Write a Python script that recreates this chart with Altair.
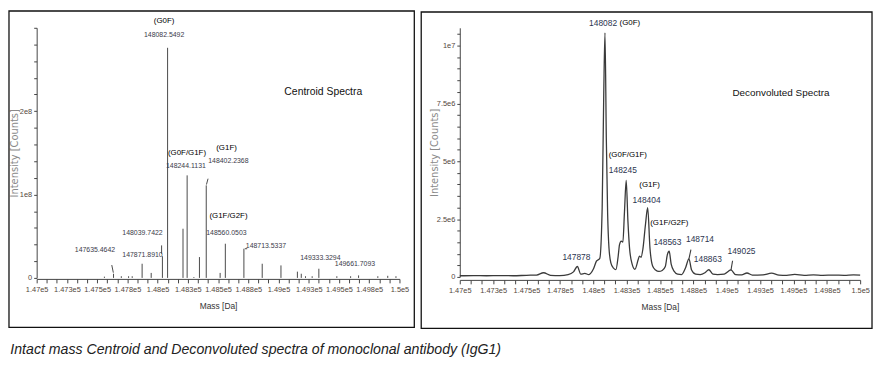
import altair as alt
import pandas as pd

# ---------------- data: centroid spectrum (left panel) ----------------
centroid_mass = [147560, 147635.4642, 147700, 147760, 147790, 147871.8910, 147947,
                 148039.7422, 148082.5492, 148210, 148244.1131, 148300, 148346,
                 148402.2368, 148517, 148560.0503, 148713.5337, 148865, 149020,
                 149156, 149188, 149223, 149278, 149333.3294, 149482, 149596,
                 149661.7093, 149821, 149903, 149971]
centroid_intensity = [0.015e8, 0.05e8, 0.02e8, 0.02e8, 0.02e8, 0.17e8, 0.06e8,
                      0.26e8, 2.76e8, 0.59e8, 1.23e8, 0.01e8, 0.25e8,
                      1.11e8, 0.06e8, 0.41e8, 0.35e8, 0.17e8, 0.15e8,
                      0.075e8, 0.05e8, 0.02e8, 0.02e8, 0.11e8, 0.02e8, 0.02e8,
                      0.03e8, 0.02e8, 0.025e8, 0.02e8]

left_num_text = ["148082.5492", "148244.1131", "148402.2368", "148560.0503",
                 "148713.5337", "148039.7422", "147871.8910", "147635.4642",
                 "149333.3294", "149661.7093"]
left_num_mass = [148054, 148234, 148585, 148569, 148896, 147875, 147875, 147482,
                 149346, 149632]
left_num_int = [2.917e8, 1.340e8, 1.399e8, 0.534e8, 0.379e8, 0.534e8, 0.273e8,
                0.332e8, 0.237e8, 0.166e8]

left_gly_text = ["(G0F)", "(G0F/G1F)", "(G1F)", "(G1F/G2F)"]
left_gly_mass = [148054, 148243, 148570, 148586]
left_gly_int = [3.083e8, 1.494e8, 1.553e8, 0.747e8]

left_lead_mass = [147621, 148033, 148417, 148721]
left_lead_mass2 = [147634, 148033, 148404, 148741]
left_lead_int = [0.154e8, 0.29e8, 1.19e8, 0.35e8]
left_lead_int2 = [0.063e8, 0.39e8, 1.12e8, 0.35e8]

# ---------------- data: deconvoluted spectrum (right panel) ----------------
decon_mass = [147000, 147100, 147200, 147300, 147400, 147500, 147575, 147628, 147680,
              147750, 147812, 147852, 147881, 147907, 147937, 147967, 148002, 148024,
              148049, 148067, 148079, 148088, 148098, 148108, 148118, 148132, 148152,
              148170, 148187, 148197, 148210, 148222, 148234, 148247, 148260, 148272,
              148292, 148312, 148337, 148346, 148358, 148372, 148392, 148408, 148425,
              148445, 148467, 148492, 148517, 148540, 148555, 148569, 148584, 148607,
              148632, 148662, 148692, 148717, 148737, 148767, 148802, 148837, 148866,
              148897, 148932, 148982, 149032, 149067, 149112, 149152, 149192, 149272,
              149336, 149392, 149450, 149510, 149580, 149650, 149720, 149800, 149880,
              149950, 150000]
decon_int_e6 = [0.05, 0.06, 0.05, 0.06, 0.05, 0.07, 0.08, 0.18, 0.07,
                0.06, 0.10, 0.22, 0.45, 0.12, 0.15, 0.10, 0.35, 0.68,
                0.80, 3.0, 8.0, 10.55, 6.0, 2.7, 1.25, 0.61, 0.38,
                0.32, 0.9, 1.4, 1.55, 1.5, 2.8, 4.17, 2.4, 1.25,
                0.54, 0.33, 0.75, 0.9, 0.85, 1.2, 2.3, 2.99, 1.25,
                0.47, 0.3, 0.24, 0.28, 0.45, 0.95, 1.11, 0.55, 0.24,
                0.12, 0.1, 0.4, 0.78, 0.3, 0.12, 0.1, 0.18, 0.31,
                0.12, 0.1, 0.12, 0.3, 0.1, 0.09, 0.17, 0.08, 0.09,
                0.16, 0.08, 0.07, 0.11, 0.07, 0.09, 0.07, 0.08, 0.07,
                0.09, 0.08]

right_num_text = ["148082", "148245", "148404", "148563", "148714", "147878",
                  "148863", "149025"]
right_num_mass = [148074, 148222, 148400, 148556, 148800, 147874, 148859, 149111]
right_num_int = [1.098e7, 4.62e6, 3.33e6, 1.50e6, 1.62e6, 0.855e6, 0.77e6, 1.11e6]

right_gly_text = ["(G0F)", "(G0F/G1F)", "(G1F)", "(G1F/G2F)"]
right_gly_mass = [148274, 148259, 148422, 148570]
right_gly_int = [1.098e7, 5.26e6, 3.97e6, 2.35e6]

right_lead_mass = [148717, 149032]
right_lead_mass2 = [148732, 149044]
right_lead_int = [0.78e6, 0.28e6]
right_lead_int2 = [1.18e6, 0.70e6]

# ---------------- ticks ----------------
x_tick_values = [147000 + 250 * i for i in range(13)]
x_tick_labels = ["1.47e5", "1.473e5", "1.475e5", "1.478e5", "1.48e5", "1.483e5",
                 "1.485e5", "1.488e5", "1.49e5", "1.493e5", "1.495e5", "1.498e5",
                 "1.5e5"]
left_y_tick_values = [0, 1e8, 2e8]
left_y_tick_labels = ["0", "1e8", "2e8"]
right_y_tick_values = [0, 2.5e6, 5e6, 7.5e6, 1e7]
right_y_tick_labels = ["0", "2.5e6", "5e6", "7.5e6", "1e7"]

caption = "Intact mass Centroid and Deconvoluted spectra of monoclonal antibody (IgG1)"

FONT = "Liberation Sans"
TICKLAB = "#54483c"


def minor_axis(start, step, count, major_values, major_labels):
    """Tick values every `step` with labels only at the major values."""
    vals = [start + i * step for i in range(count)]
    labs = [""] * count
    for v, l in zip(major_values, major_labels):
        labs[int(round((v - start) / step))] = l
    arr = "[" + ",".join("'" + s + "'" for s in labs) + "]"
    expr = f"{arr}[round((datum.value - {start}) / {step})]"
    return vals, expr


x_vals, x_expr = minor_axis(147000, 250 / 3, 37, x_tick_values, x_tick_labels)
ly_vals, ly_expr = minor_axis(0, 2e7, 16, left_y_tick_values, left_y_tick_labels)
ry_vals, ry_expr = minor_axis(0, 5e5, 22, right_y_tick_values, right_y_tick_labels)


def x_axis(offset):
    return alt.Axis(values=x_vals, labelExpr=x_expr,
                    title="Mass [Da]", grid=False, tickSize=4, tickColor="#444",
                    domainColor="#444", labelFont=FONT, labelFontSize=7.5,
                    labelColor=TICKLAB, labelOverlap=False, labelPadding=3,
                    labelFlush=False, titleFont=FONT, titleFontSize=8.5,
                    titleFontWeight="normal", titleColor="#333", titlePadding=8,
                    offset=offset)


def y_axis(vals, expr, title_x, h):
    return alt.Axis(values=vals, labelExpr=expr,
                    title="Intensity [Counts]", grid=False, tickSize=3, tickColor="#444",
                    domainColor="#444", labelFont=FONT, labelFontSize=7.5,
                    labelColor=TICKLAB, labelOverlap=False, labelPadding=2,
                    labelFlush=False, titleFont="DejaVu Sans", titleFontSize=10,
                    titleColor="#8a8a8a", titleFontWeight="normal", titleX=title_x,
                    titleY=h / 2, titleBaseline="middle", titleAngle=270)


def box(x1, x2, y1, y2):
    return alt.Chart(pd.DataFrame({"k": [0]})).mark_rect(
        fill="white", fillOpacity=0, stroke="#111", strokeWidth=1.3
    ).encode(x=alt.value(x1), x2=alt.value(x2), y=alt.value(y1), y2=alt.value(y2))


# ---------------- left panel ----------------
W1, H1 = 367, 253
xs1 = alt.Scale(domain=[147000, 150000], nice=False, zero=False)
ys1 = alt.Scale(domain=[0, 3e8], nice=False)
xa1 = x_axis(1)
ya1 = y_axis(ly_vals, ly_expr, -22, H1)
X1 = alt.X("mass:Q", scale=xs1, axis=xa1)
Y1 = alt.Y("intensity:Q", scale=ys1, axis=ya1)

df_c = pd.DataFrame({"mass": centroid_mass, "intensity": centroid_intensity})
df_c["base"] = 0.0
sticks = alt.Chart(df_c).mark_rule(color="#4a4a4a", strokeWidth=1).encode(
    x=X1, y=Y1, y2="base:Q")
df_ll = pd.DataFrame({"mass": left_lead_mass, "mass2": left_lead_mass2,
                      "intensity": left_lead_int, "intensity2": left_lead_int2})
lead1 = alt.Chart(df_ll).mark_rule(color="#4a4a4a", strokeWidth=1).encode(
    x=X1, x2="mass2:Q", y=Y1, y2="intensity2:Q")
df_ln = pd.DataFrame({"mass": left_num_mass, "intensity": left_num_int, "t": left_num_text})
num1 = alt.Chart(df_ln).mark_text(font=FONT, fontSize=7, color="#3b3b4a",
                                  baseline="middle").encode(x=X1, y=Y1, text="t:N")
df_lg = pd.DataFrame({"mass": left_gly_mass, "intensity": left_gly_int, "t": left_gly_text})
gly1 = alt.Chart(df_lg).mark_text(font=FONT, fontSize=8, color="#000",
                                  baseline="middle").encode(x=X1, y=Y1, text="t:N")
df_t1 = pd.DataFrame({"mass": [149370], "intensity": [2.229e8], "t": ["Centroid Spectra"]})
ttl1 = alt.Chart(df_t1).mark_text(font=FONT, fontSize=10.5, color="#111",
                                  baseline="middle").encode(x=X1, y=Y1, text="t:N")

left = alt.layer(box(-28, 382, -17, 303), sticks, lead1, num1, gly1, ttl1).properties(
    width=W1, height=H1)

# ---------------- right panel ----------------
W2, H2 = 405, 252
xs2 = alt.Scale(domain=[147000, 150000], nice=False, zero=False)
ys2 = alt.Scale(domain=[0, 1.077e7], nice=False)
xa2 = x_axis(3)
ya2 = y_axis(ry_vals, ry_expr, -26, H2)
X2 = alt.X("mass:Q", scale=xs2, axis=xa2)
Y2 = alt.Y("intensity:Q", scale=ys2, axis=ya2)

df_d = pd.DataFrame({"mass": decon_mass, "intensity": [v * 1e6 for v in decon_int_e6]})
line = alt.Chart(df_d).mark_line(color="#3a3a3a", strokeWidth=1.3,
                                 interpolate="monotone").encode(x=X2, y=Y2)
df_rl = pd.DataFrame({"mass": right_lead_mass, "mass2": right_lead_mass2,
                      "intensity": right_lead_int, "intensity2": right_lead_int2})
lead2 = alt.Chart(df_rl).mark_rule(color="#3a3a3a", strokeWidth=1.1).encode(
    x=X2, x2="mass2:Q", y=Y2, y2="intensity2:Q")
df_rn = pd.DataFrame({"mass": right_num_mass, "intensity": right_num_int, "t": right_num_text})
num2 = alt.Chart(df_rn).mark_text(font=FONT, fontSize=8.5, color="#2c3550",
                                  baseline="middle").encode(x=X2, y=Y2, text="t:N")
df_rg = pd.DataFrame({"mass": right_gly_mass, "intensity": right_gly_int, "t": right_gly_text})
gly2 = alt.Chart(df_rg).mark_text(font=FONT, fontSize=8, color="#000",
                                  baseline="middle").encode(x=X2, y=Y2, text="t:N")
df_t2 = pd.DataFrame({"mass": [149407], "intensity": [7.95e6], "t": ["Deconvoluted Spectra"]})
ttl2 = alt.Chart(df_t2).mark_text(font=FONT, fontSize=10, color="#111",
                                  baseline="middle").encode(x=X2, y=Y2, text="t:N")

right = alt.layer(box(-39, 417, -16, 304), line, lead2, num2, gly2, ttl2).properties(
    width=W2, height=H2)

chart = alt.hconcat(left, right, spacing=5).properties(
    title=alt.TitleParams(caption, orient="bottom", anchor="start", font=FONT,
                          fontSize=14.3, fontStyle="italic", fontWeight="normal",
                          color="#222", offset=14, dx=2),
    padding=0, background="white",
).configure_view(strokeWidth=0)

chart.save("out.html", embed_options={"renderer": "svg", "actions": False})
